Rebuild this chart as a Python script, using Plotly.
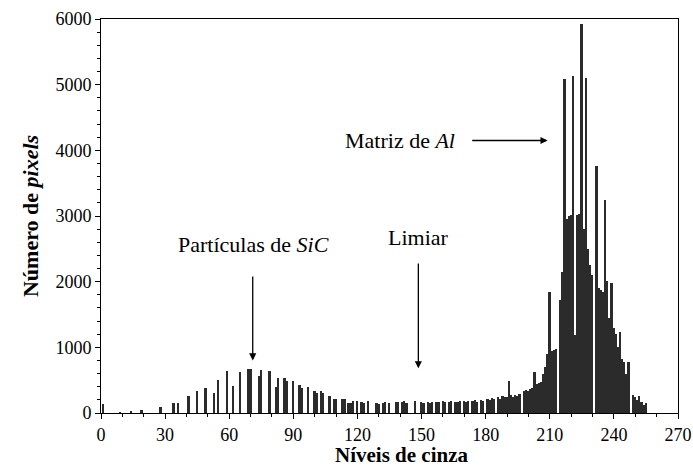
import plotly.graph_objects as go

# Grey-level histogram of the composite micrograph (levels 0..255)
levels = list(range(256))
counts = [
    0, 135, 0, 0, 0, 0, 0, 0, 0, 15,            # 0-9
    0, 0, 0, 0, 35, 0, 0, 0, 0, 50,             # 10-19
    0, 0, 0, 0, 0, 0, 0, 0, 95, 0,              # 20-29
    0, 0, 0, 0, 145, 0, 145, 0, 0, 0,           # 30-39
    0, 260, 0, 0, 0, 340, 0, 0, 0, 375,         # 40-49
    0, 0, 0, 300, 0, 500, 0, 0, 0, 640,         # 50-59
    0, 0, 415, 0, 0, 630, 0, 0, 0, 675,         # 60-69
    675, 0, 0, 0, 565, 650, 0, 0, 0, 640,       # 70-79
    0, 0, 390, 530, 0, 0, 530, 483, 0, 0,       # 80-89
    485, 0, 0, 425, 380, 0, 0, 400, 0, 0,       # 90-99
    330, 300, 0, 340, 300, 0, 0, 260, 0, 215,   # 100-109
    215, 0, 0, 215, 215, 0, 150, 150, 185, 0,   # 110-119
    185, 0, 170, 150, 0, 180, 0, 0, 0, 150,     # 120-129
    140, 0, 155, 160, 0, 150, 0, 0, 160, 170,   # 130-139
    0, 160, 180, 150, 0, 0, 0, 185, 0, 0,       # 140-149
    160, 150, 0, 170, 150, 160, 0, 175, 160, 0, # 150-159
    180, 160, 0, 175, 190, 0, 170, 160, 180, 0, # 160-169
    190, 170, 190, 0, 180, 200, 170, 0, 200, 190,   # 170-179
    0, 210, 200, 230, 210, 0, 240, 220, 260, 240,   # 180-189
    240, 480, 270, 250, 280, 260, 290, 0, 330, 350, # 190-199
    340, 360, 380, 620, 440, 450, 470, 600, 700, 900,        # 200-209
    1850, 950, 960, 980, 0, 1720, 2150, 5080, 2950, 3000,    # 210-219
    3020, 5130, 1190, 3020, 3030, 5920, 2800, 5100, 2500, 2250,  # 220-229
    2100, 0, 3760, 1900, 1880, 1850, 3250, 2010, 1450, 1980,     # 230-239
    1300, 1200, 1000, 1235, 830, 780, 600, 780, 0, 280,          # 240-249
    240, 200, 260, 170, 120, 150,                                # 250-255
]

x_ticks = [0, 30, 60, 90, 120, 150, 180, 210, 240, 270]
y_ticks = [0, 1000, 2000, 3000, 4000, 5000, 6000]

SERIF = "Liberation Serif, Times New Roman, serif"

fig = go.Figure()
fig.add_bar(
    x=levels, y=counts, width=0.85,
    marker=dict(color="#2b2b2b", line_width=0),
    hoverinfo="x+y",
)

axis_common = dict(
    showline=True, linecolor="black", linewidth=1, mirror=True,
    showgrid=False, zeroline=False, automargin=False,
    ticks="outside", ticklen=5, tickcolor="black", tickwidth=1,
    tickfont=dict(family=SERIF, size=18, color="black"),
)

fig.update_xaxes(
    range=[0, 270], tickmode="array", tickvals=x_ticks,
    minor=dict(dtick=10, ticks="outside", ticklen=3, tickcolor="black"),
    **axis_common,
)
fig.update_yaxes(
    range=[0, 6000], tickmode="array", tickvals=y_ticks,
    minor=dict(dtick=200, ticks="outside", ticklen=3, tickcolor="black"),
    **axis_common,
)

label_font = dict(family=SERIF, size=22, color="black")
title_font = dict(family=SERIF, size=22, color="black")
arrow_style = dict(showarrow=True, arrowhead=2, arrowsize=1.1, arrowwidth=1.3,
                   arrowcolor="black", axref="x", ayref="y", text="")

annotations = [
    # axis titles
    dict(xref="paper", yref="paper", x=0.52, y=-0.107, xanchor="center", yanchor="middle",
         text="<b>Níveis de cinza</b>", showarrow=False, font=dict(family=SERIF, size=21, color="black")),
    dict(xref="paper", yref="paper", x=-0.123, y=0.5, xanchor="center", yanchor="middle",
         text="<b>Número de <i>pixels</i></b>", textangle=-90, showarrow=False, font=title_font),
    # labelled arrows
    dict(x=71.5, y=2560, text="Partículas de <i>SiC</i>", showarrow=False, font=label_font),
    dict(x=71, y=800, ax=71, ay=2100, **arrow_style),
    dict(x=148.5, y=2670, text="Limiar", showarrow=False, font=label_font),
    dict(x=148.5, y=680, ax=148.5, ay=2300, **arrow_style),
    dict(x=140, y=4150, text="Matriz de <i>Al</i>", showarrow=False, font=label_font),
    dict(x=209, y=4150, ax=173, ay=4150, **arrow_style),
]

fig.update_layout(
    width=693, height=470,
    margin=dict(l=101, r=15, t=19, b=57),
    paper_bgcolor="white", plot_bgcolor="white",
    showlegend=False, bargap=0,
    annotations=annotations,
    font=dict(family=SERIF, color="black"),
)

fig.write_html("out.html")
